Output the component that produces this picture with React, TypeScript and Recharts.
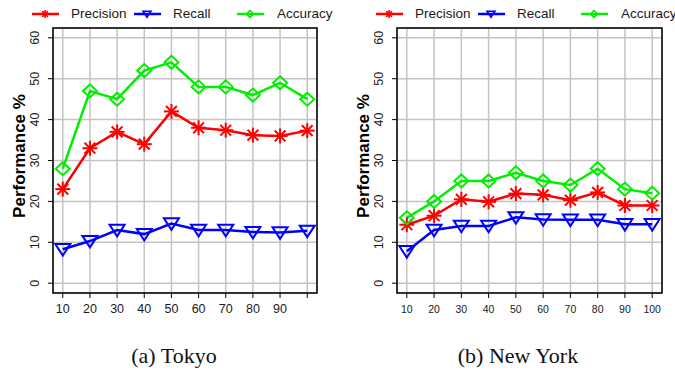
import React from 'react';
import {
  CartesianGrid,
  Line,
  LineChart,
  ReferenceArea,
  XAxis,
  YAxis,
} from 'recharts';

// sample sizes on the x axis
const steps = [10, 20, 30, 40, 50, 60, 70, 80, 90, 100];
const yTicks = [0, 10, 20, 30, 40, 50, 60];

// (a) Tokyo
const tokyoPrecision = [23, 33, 37, 34, 42, 38, 37.4, 36.2, 36, 37.3];
const tokyoRecall = [8.3, 10.3, 13, 12, 14.6, 13, 13, 12.5, 12.4, 12.8];
const tokyoAccuracy = [28, 47, 45, 52, 54, 48, 48, 46, 49, 45];

// (b) New York
const nyPrecision = [14.3, 16.5, 20.5, 19.9, 21.9, 21.6, 20.3, 22.2, 19, 19];
const nyRecall = [7.8, 13, 14, 14, 16.1, 15.6, 15.5, 15.5, 14.4, 14.4];
const nyAccuracy = [16, 20, 25, 25, 27, 25, 24, 28, 23, 22];

const RED = '#ff0000';
const BLUE = '#0000ff';
const GREEN = '#00ee00';
const SANS = '"Liberation Sans", Arial, Helvetica, sans-serif';

const X_DOMAIN: [number, number] = [6.4, 103.6];
const Y_DOMAIN: [number, number] = [-2.4, 62.4];

const buildRows = (p: number[], r: number[], a: number[]) =>
  steps.map((s, i) => ({ step: s, precision: p[i], recall: r[i], accuracy: a[i] }));

const Star = ({ cx, cy, r, sw = 2 }: { cx: number; cy: number; r: number; sw?: number }) => {
  const d = r * 0.72;
  return (
    <g stroke={RED} strokeWidth={sw} fill='none'>
      <line x1={cx - r} y1={cy} x2={cx + r} y2={cy} />
      <line x1={cx} y1={cy - r} x2={cx} y2={cy + r} />
      <line x1={cx - d} y1={cy - d} x2={cx + d} y2={cy + d} />
      <line x1={cx - d} y1={cy + d} x2={cx + d} y2={cy - d} />
    </g>
  );
};

const TriDown = ({ cx, cy, w, h, sw = 2 }: { cx: number; cy: number; w: number; h: number; sw?: number }) => (
  <polygon
    points={`${cx - w},${cy - h * 0.45} ${cx + w},${cy - h * 0.45} ${cx},${cy + h * 0.55}`}
    stroke={BLUE}
    strokeWidth={sw}
    fill='none'
    strokeLinejoin='miter'
  />
);

const Diamond = ({ cx, cy, w, h, sw = 2 }: { cx: number; cy: number; w: number; h: number; sw?: number }) => (
  <polygon
    points={`${cx},${cy - h} ${cx + w},${cy} ${cx},${cy + h} ${cx - w},${cy}`}
    stroke={GREEN}
    strokeWidth={sw}
    fill='none'
  />
);

const starDot = (p: any) => <Star key={`s${p.index}`} cx={p.cx} cy={p.cy} r={7.5} />;
const triDot = (p: any) => <TriDown key={`t${p.index}`} cx={p.cx} cy={p.cy} w={7.5} h={11.5} />;
const diamondDot = (p: any) => <Diamond key={`d${p.index}`} cx={p.cx} cy={p.cy} w={7} h={6.5} />;

const YTick = (props: any) => {
  const { y, payload, boxLeft } = props;
  const bx = boxLeft - 14;
  return (
    <text
      x={bx}
      y={y}
      transform={`rotate(-90 ${bx} ${y})`}
      textAnchor='middle'
      fontFamily={SANS}
      fontSize={12.5}
      fill='#1a1a1a'
    >
      {payload.value}
    </text>
  );
};

const XTick = (props: any) => {
  const { x, payload, fontSize, hideLast } = props;
  if (hideLast && payload.value === 100) return <g />;
  return (
    <text x={x} y={313} textAnchor='middle' fontFamily={SANS} fontSize={fontSize} fill='#1a1a1a'>
      {payload.value}
    </text>
  );
};

const AxisTitle = (props: any) => {
  const { boxLeft } = props;
  const bx = boxLeft - 28;
  const cy = 156;
  return (
    <text
      x={bx}
      y={cy}
      transform={`rotate(-90 ${bx} ${cy})`}
      textAnchor='middle'
      fontFamily={SANS}
      fontSize={17}
      fontWeight='bold'
      fill='#000'
    >
      Performance %
    </text>
  );
};

type PanelProps = {
  left: number;
  width: number;
  axisWidth: number;
  marginRight: number;
  rows: ReturnType<typeof buildRows>;
  xFont: number;
  hideLast: boolean;
};

const Panel = ({ left, width, axisWidth, marginRight, rows, xFont, hideLast }: PanelProps) => (
  <div style={{ position: 'absolute', left, top: 0 }}>
    <LineChart
      width={width}
      height={320}
      data={rows}
      margin={{ top: 28, right: marginRight, bottom: 0, left: 0 }}
    >
      <CartesianGrid stroke='#c4c4c4' strokeWidth={1.5} />
      <XAxis
        dataKey='step'
        type='number'
        domain={X_DOMAIN}
        allowDataOverflow
        ticks={steps}
        interval={0}
        height={27}
        axisLine={false}
        tickSize={5}
        tickLine={{ stroke: '#000', strokeWidth: 1 }}
        tick={<XTick fontSize={xFont} hideLast={hideLast} />}
      />
      <YAxis
        type='number'
        domain={Y_DOMAIN}
        allowDataOverflow
        ticks={yTicks}
        interval={0}
        width={axisWidth}
        axisLine={false}
        tickSize={5}
        tickLine={{ stroke: '#000', strokeWidth: 1 }}
        tick={<YTick boxLeft={axisWidth} />}
        label={<AxisTitle boxLeft={axisWidth} />}
      />
      <ReferenceArea
        x1={X_DOMAIN[0]}
        x2={X_DOMAIN[1]}
        y1={Y_DOMAIN[0]}
        y2={Y_DOMAIN[1]}
        fill='none'
        stroke='#000'
        strokeWidth={1.5}
        ifOverflow='visible'
      />
      <Line
        dataKey='precision'
        stroke={RED}
        strokeWidth={2.5}
        dot={starDot}
        isAnimationActive={false}
      />
      <Line
        dataKey='recall'
        stroke={BLUE}
        strokeWidth={2.5}
        dot={triDot}
        isAnimationActive={false}
      />
      <Line
        dataKey='accuracy'
        stroke={GREEN}
        strokeWidth={2.5}
        dot={diamondDot}
        isAnimationActive={false}
      />
    </LineChart>
  </div>
);

const legendItems = [
  { name: 'Precision', icon: <Star cx={13} cy={6} r={4} sw={1.6} />, color: RED, line: -21, text: 18 },
  { name: 'Recall', icon: <TriDown cx={13} cy={6} w={4} h={6} sw={1.6} />, color: BLUE, line: 81, text: 120 },
  { name: 'Accuracy', icon: <Diamond cx={13} cy={6} w={3.5} h={3.5} sw={1.6} />, color: GREEN, line: 184, text: 224 },
];

const PanelLegend = ({ boxLeft }: { boxLeft: number }) => (
  <>
    {legendItems.map((it) => (
      <React.Fragment key={it.name}>
        <svg
          width={27}
          height={12}
          style={{ position: 'absolute', left: boxLeft + it.line, top: 8 }}
        >
          <line x1={0} y1={6} x2={27} y2={6} stroke={it.color} strokeWidth={2.5} />
          {it.icon}
        </svg>
        <div
          style={{
            position: 'absolute',
            left: boxLeft + it.text,
            top: 6,
            fontFamily: SANS,
            fontSize: 13.5,
            lineHeight: '16px',
            color: '#1a1a1a',
            whiteSpace: 'nowrap',
          }}
        >
          {it.name}
        </div>
      </React.Fragment>
    ))}
  </>
);

const captionStyle: React.CSSProperties = {
  position: 'absolute',
  top: 345,
  width: 200,
  textAlign: 'center',
  fontFamily: '"Liberation Serif", "Times New Roman", serif',
  fontSize: 22,
  lineHeight: '22px',
  color: '#111',
};

export default function App() {
  return (
    <div
      style={{
        position: 'absolute',
        left: 0,
        top: 0,
        width: 675,
        height: 375,
        overflow: 'hidden',
        background: '#fff',
      }}
    >
      <Panel
        left={0}
        width={340}
        axisWidth={53}
        marginRight={23}
        rows={buildRows(tokyoPrecision, tokyoRecall, tokyoAccuracy)}
        xFont={12.5}
        hideLast
      />
      <Panel
        left={340}
        width={335}
        axisWidth={57}
        marginRight={13}
        rows={buildRows(nyPrecision, nyRecall, nyAccuracy)}
        xFont={10.5}
        hideLast={false}
      />
      <PanelLegend boxLeft={53} />
      <PanelLegend boxLeft={397} />
      <div style={{ ...captionStyle, left: 174 - 100 }}>(a) Tokyo</div>
      <div style={{ ...captionStyle, left: 518 - 100 }}>(b) New York</div>
    </div>
  );
}
